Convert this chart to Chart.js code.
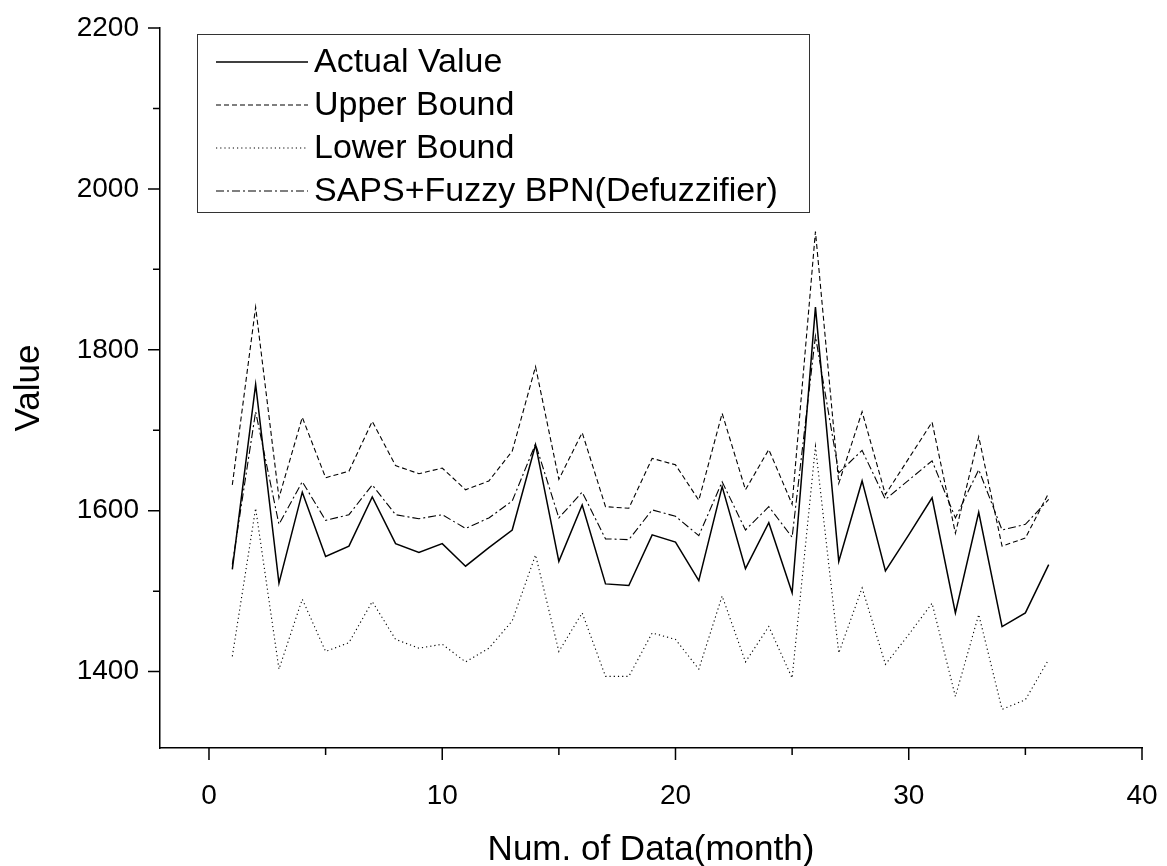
<!DOCTYPE html>
<html>
<head>
<meta charset="utf-8">
<script src="https://cdn.jsdelivr.net/npm/chart.js@4.4.0/dist/chart.umd.min.js"></script>
<style>
  html, body { margin:0; padding:0; background:#fff; }
</style>
</head>
<body>
<canvas id="chart" width="1167" height="866"></canvas>
<script>
const months = [1,2,3,4,5,6,7,8,9,10,11,12,13,14,15,16,17,18,19,20,21,22,23,24,25,26,27,28,29,30,31,32,33,34,35,36];
const actualValue = [1527,1757,1510,1623,1543,1556,1617,1559,1548,1559,1531,1554,1576,1682,1537,1607,1509,1507,1570,1561,1513,1630,1528,1585,1498,1853,1537,1637,1525,1570,1616,1473,1598,1456,1473,1533];
const upperBound = [1632,1853,1616,1716,1641,1649,1711,1656,1646,1653,1626,1637,1674,1779,1639,1697,1605,1603,1665,1657,1613,1721,1626,1676,1608,1947,1634,1723,1620,1665,1710,1572,1692,1556,1566,1622];
const lowerBound = [1419,1603,1403,1490,1425,1436,1487,1440,1429,1434,1412,1429,1463,1545,1425,1473,1394,1394,1448,1440,1403,1494,1412,1456,1392,1680,1423,1504,1409,1446,1485,1369,1471,1353,1365,1415];
const defuzzifier = [1533,1723,1583,1636,1588,1595,1632,1595,1590,1595,1578,1591,1612,1683,1591,1623,1565,1564,1601,1593,1569,1636,1576,1605,1567,1817,1647,1675,1614,1638,1662,1591,1651,1576,1583,1614];
const xTickValues = [0,5,10,15,20,25,30,35,40];
const yTickValues = [1400,1500,1600,1700,1800,1900,2000,2100,2200];

const FONT = "'Liberation Sans', Arial, sans-serif";
const pts = arr => months.map((m, i) => ({x: m, y: arr[i]}));

function series(label, arr, dash, width){
  return { label, data: pts(arr), borderColor:'#000', borderWidth:width, borderDash:dash,
           pointRadius:0, tension:0, fill:false };
}

// outward ticks, long for labelled values and short for the rest
const axisTicks = {
  id:'axisTicks',
  afterDraw(chart){
    const {ctx, scales:{x, y}} = chart;
    ctx.save();
    ctx.strokeStyle = '#000'; ctx.lineWidth = 1.5;
    ctx.beginPath();
    xTickValues.forEach(v => {
      const px = x.getPixelForValue(v), len = v % 10 === 0 ? 12 : 7;
      ctx.moveTo(px, x.top); ctx.lineTo(px, x.top + len);
    });
    yTickValues.forEach(v => {
      const py = y.getPixelForValue(v), len = v % 200 === 0 ? 12 : 7;
      ctx.moveTo(y.right - len, py); ctx.lineTo(y.right, py);
    });
    ctx.stroke();
    ctx.restore();
  }
};

// boxed legend inside the plot, top left
const boxLegend = {
  id:'boxLegend',
  afterDraw(chart){
    const ctx = chart.ctx;
    const bx = 197, by = 34, bw = 612, bh = 178;
    ctx.save();
    ctx.fillStyle = '#fff';
    ctx.fillRect(bx, by, bw, bh);
    ctx.strokeStyle = '#333'; ctx.lineWidth = 1;
    ctx.strokeRect(bx + 0.5, by + 0.5, bw, bh);
    chart.data.datasets.forEach((ds, i) => {
      const yy = 62 + i * 43;
      ctx.strokeStyle = '#000'; ctx.lineWidth = ds.borderWidth;
      ctx.setLineDash(ds.borderDash);
      ctx.beginPath(); ctx.moveTo(216, yy); ctx.lineTo(308, yy); ctx.stroke();
      ctx.setLineDash([]);
      ctx.fillStyle = '#000';
      ctx.font = '34px ' + FONT;
      ctx.textBaseline = 'middle';
      ctx.fillText(ds.label, 314, yy + 1);
    });
    ctx.restore();
  }
};

new Chart(document.getElementById('chart'), {
  type:'line',
  data:{ datasets:[
    series('Actual Value', actualValue, [], 1.5),
    series('Upper Bound', upperBound, [5,3], 1.1),
    series('Lower Bound', lowerBound, [1.2,3], 1.1),
    series('SAPS+Fuzzy BPN(Defuzzifier)', defuzzifier, [8,3,2,3], 1.1)
  ]},
  options:{
    responsive:false, animation:false, devicePixelRatio:1,
    layout:{ padding:{ top:28, right:25, left:0, bottom:0 } },
    plugins:{ legend:{display:false}, tooltip:{enabled:false} },
    scales:{
      x:{
        type:'linear', min:-2.1, max:40,
        afterBuildTicks: s => { s.ticks = xTickValues.map(v => ({value:v})); },
        afterFit: s => { s.height = 118; s.paddingLeft = 0; s.paddingRight = 0; },
        grid:{ drawOnChartArea:false, drawTicks:true, tickLength:12, tickColor:'rgba(0,0,0,0)' },
        border:{ display:true, color:'#000', width:1.5 },
        ticks:{ autoSkip:false, maxRotation:0, padding:19, color:'#000',
                font:{ family:FONT, size:28 },
                callback: v => v % 10 === 0 ? v : '' },
        title:{ display:true, text:'Num. of Data(month)', color:'#000',
                font:{ family:FONT, size:35, lineHeight:0.9 }, padding:{ top:0, bottom:0 } }
      },
      y:{
        type:'linear', min:1305, max:2200,
        afterBuildTicks: s => { s.ticks = yTickValues.map(v => ({value:v})); },
        afterFit: s => { s.width = 160; s.paddingTop = 0; s.paddingBottom = 0; },
        grid:{ drawOnChartArea:false, drawTicks:true, tickLength:12, tickColor:'rgba(0,0,0,0)' },
        border:{ display:true, color:'#000', width:1.5 },
        ticks:{ autoSkip:false, padding:9, color:'#000',
                font:{ family:FONT, size:28 },
                callback: v => v % 200 === 0 ? v : '' },
        title:{ display:true, text:'Value', color:'#000',
                font:{ family:FONT, size:35 }, padding:{ top:8, bottom:0 } }
      }
    }
  },
  plugins:[axisTicks, boxLegend]
});
</script>
</body>
</html>
